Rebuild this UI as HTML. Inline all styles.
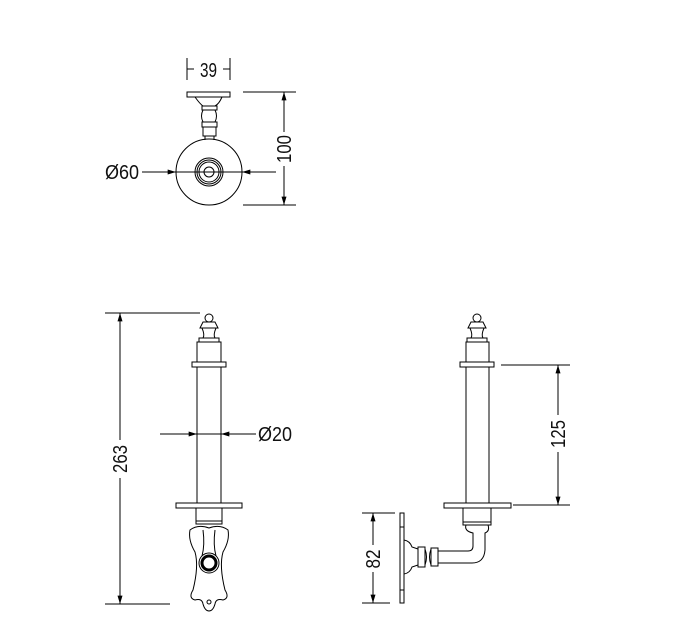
<!DOCTYPE html>
<html><head><style>body{margin:0;background:#fff}svg{display:block}text{font-family:"Liberation Sans",sans-serif;font-size:20px;fill:#111}</style></head>
<body>
<svg width="679" height="643" viewBox="0 0 679 643" xmlns="http://www.w3.org/2000/svg">
<defs>
<marker id="a" viewBox="0 0 10 6" refX="10" refY="3" markerWidth="14" markerHeight="5" orient="auto-start-reverse" markerUnits="userSpaceOnUse"><path d="M0,0L10,3L0,6z" fill="#000"/></marker>
</defs>
<g stroke="#000" stroke-width="1" fill="none">
<!-- TOP VIEW -->
<line x1="187" y1="58" x2="187" y2="80"/><line x1="230" y1="58" x2="230" y2="80"/>
<line x1="187" y1="69" x2="194" y2="69"/><line x1="223" y1="69" x2="230" y2="69"/>
<rect x="187" y="92" width="43" height="5"/>
<path d="M195,97 Q200,104 203,106 L215,106 Q219,104 222,97"/>
<rect x="202" y="106" width="15" height="4"/>
<path d="M203,110 Q200,116 203,122 L215,122 Q218,116 215,110"/>
<rect x="202" y="122" width="15" height="5"/>
<rect x="203" y="127" width="13" height="9"/>
<line x1="205" y1="136" x2="205" y2="140"/><line x1="214" y1="136" x2="214" y2="140"/>
<circle cx="209" cy="172" r="33"/>
<circle cx="209" cy="172" r="14"/><circle cx="209" cy="172" r="12"/><circle cx="209" cy="172" r="10"/>
<circle cx="209" cy="172" r="5"/>
<line x1="243" y1="92" x2="296" y2="92"/><line x1="243" y1="205" x2="296" y2="205"/>
<line x1="284" y1="92" x2="284" y2="132" marker-start="url(#a)"/>
<line x1="284" y1="166" x2="284" y2="205" marker-end="url(#a)"/>
<line x1="142" y1="172" x2="176" y2="172" marker-end="url(#a)"/>
<line x1="276" y1="172" x2="242" y2="172" marker-end="url(#a)"/>
<line x1="176" y1="172" x2="242" y2="172"/>
<!-- FRONT VIEW -->
<line x1="105" y1="313" x2="200" y2="313"/><line x1="105" y1="604" x2="170" y2="604"/>
<line x1="120" y1="313" x2="120" y2="440" marker-start="url(#a)"/>
<line x1="120" y1="478" x2="120" y2="604" marker-end="url(#a)"/>
<circle cx="209" cy="318" r="4"/>
<path d="M203,322 L215,322 L218,328 L200,328 Z"/>
<path d="M202,328 Q205,335 203,338 L215,338 Q213,335 216,328"/>
<rect x="199" y="338" width="20" height="4"/>
<rect x="197" y="342" width="24" height="20"/>
<rect x="192" y="362" width="34" height="5"/>
<line x1="197" y1="367" x2="197" y2="503"/><line x1="221" y1="367" x2="221" y2="503"/>
<rect x="176" y="503" width="66" height="5"/>
<rect x="196" y="508" width="26" height="16"/>
<line x1="196" y1="521" x2="222" y2="521"/>
<path d="M190,530 Q198,524 209,528 Q220,524 228,530 Q230,540 223,552 Q219,566 225,590 Q230,598 223,600 Q216,598 215,604 Q213,611 209,611 Q205,611 203,604 Q202,598 195,600 Q188,598 193,590 Q199,566 195,552 Q188,540 190,530 Z"/>
<path d="M203,530 Q205,545 202,556 M215,530 Q213,545 216,556"/>
<circle cx="209" cy="563" r="10"/>
<circle cx="209" cy="563" r="7" stroke-width="3"/>
<circle cx="209" cy="602" r="2"/>
<line x1="160" y1="434" x2="197" y2="434" marker-end="url(#a)"/>
<line x1="256" y1="434" x2="221" y2="434" marker-end="url(#a)"/>
<line x1="197" y1="434" x2="221" y2="434"/>
<!-- SIDE VIEW -->
<circle cx="477" cy="318" r="4"/>
<path d="M471,322 L483,322 L486,328 L468,328 Z"/>
<path d="M470,328 Q473,335 471,338 L483,338 Q481,335 484,328"/>
<rect x="467" y="338" width="20" height="4"/>
<rect x="466" y="342" width="23" height="20"/>
<rect x="460" y="362" width="34" height="5"/>
<line x1="466" y1="367" x2="466" y2="503"/><line x1="489" y1="367" x2="489" y2="503"/>
<rect x="444" y="503" width="67" height="5"/>
<rect x="463" y="508" width="28" height="17"/>
<line x1="463" y1="522" x2="491" y2="522"/>
<path d="M466,525 L488,525 Q490,531 485,533 L485,550 Q484,563 472,563 L438,563 M466,525 Q464,531 473,533 L473,546 Q473,551 468,551 L438,551"/>
<rect x="431" y="548" width="7" height="18"/>
<path d="M425,549 Q428,557 425,565 M431,549 Q428,557 431,565"/>
<rect x="418" y="547" width="7" height="20"/>
<path d="M404,540 Q410,541 412,547 L418,549 L418,565 L412,567 Q410,573 404,574"/>
<rect x="400" y="513" width="4" height="90"/>
<line x1="400" y1="527" x2="404" y2="527"/><line x1="400" y1="590" x2="404" y2="590"/>
<line x1="501" y1="365" x2="570" y2="365"/><line x1="513" y1="505" x2="570" y2="505"/>
<line x1="558" y1="365" x2="558" y2="415" marker-start="url(#a)"/>
<line x1="558" y1="452" x2="558" y2="505" marker-end="url(#a)"/>
<line x1="362" y1="513" x2="395" y2="513"/><line x1="362" y1="603" x2="390" y2="603"/>
<line x1="373" y1="513" x2="373" y2="545" marker-start="url(#a)"/>
<line x1="373" y1="572" x2="373" y2="603" marker-end="url(#a)"/>
</g>
<text x="200" y="77" textLength="17" lengthAdjust="spacingAndGlyphs">39</text>
<text x="105" y="179" textLength="34" lengthAdjust="spacingAndGlyphs">Ø60</text>
<text x="258" y="441" textLength="34" lengthAdjust="spacingAndGlyphs">Ø20</text>
<text transform="translate(291,149) rotate(-90)" text-anchor="middle" textLength="28" lengthAdjust="spacingAndGlyphs">100</text>
<text transform="translate(127,459) rotate(-90)" text-anchor="middle" textLength="28" lengthAdjust="spacingAndGlyphs">263</text>
<text transform="translate(565,434) rotate(-90)" text-anchor="middle" textLength="28" lengthAdjust="spacingAndGlyphs">125</text>
<text transform="translate(380,559) rotate(-90)" text-anchor="middle" textLength="19" lengthAdjust="spacingAndGlyphs">82</text>
</svg>
</body></html>
